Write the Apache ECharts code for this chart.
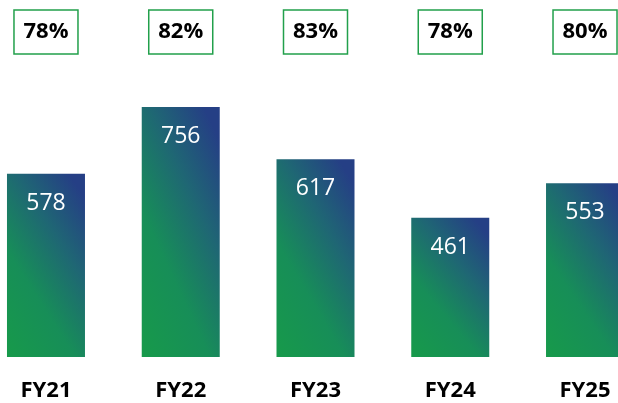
<!DOCTYPE html>
<html>
<head>
<meta charset="utf-8">
<script src="https://cdn.jsdelivr.net/npm/echarts@6/dist/echarts.min.js"></script>
<style>
  html, body { margin: 0; padding: 0; background: #fff; }
  #chart { width: 618px; height: 403px; }
</style>
</head>
<body>
<div id="chart"></div>
<script>
var years = ['FY21', 'FY22', 'FY23', 'FY24', 'FY25'];
var values = [578, 756, 617, 461, 553];
var shares = ['78%', '82%', '83%', '78%', '80%'];

var BAR_W = 78;
var KX = 0.4, KY = 0.6;

// gradient scaled with the bar's shape: t = KX*x + KY*y (normalised, y up)
function barGradient(h) {
    var w = BAR_W;
    var g2 = KX * KX / (w * w) + KY * KY / (h * h);
    var nx = KX / (w * w * g2);
    var ny = -KY / (h * h * g2);
    return new echarts.graphic.LinearGradient(0, 1, nx, 1 + ny, [
        { offset: 0, color: '#179a4a' },
        { offset: 0.35, color: '#178e58' },
        { offset: 0.65, color: '#1f6674' },
        { offset: 0.92, color: '#253f85' },
        { offset: 1, color: '#253f85' }
    ]);
}

var myChart = echarts.init(document.getElementById('chart'));
var option = {
    backgroundColor: '#fff',
    animation: false,
    grid: { left: -21.4, right: -34.4, top: 60, bottom: 46, outerBoundsMode: 'none', containLabel: false },
    xAxis: [{
        type: 'category',
        data: years,
        axisLine: { show: false },
        axisTick: { show: false },
        axisLabel: {
            interval: 0,
            margin: 23,
            color: '#000',
            fontFamily: 'Open Sans',
            fontWeight: 'bold',
            fontSize: 22
        }
    }, {
        type: 'category',
        position: 'top',
        data: shares,
        axisLine: { show: false },
        axisTick: { show: false },
        axisLabel: {
            interval: 0,
            margin: 6,
            color: '#000',
            fontFamily: 'Open Sans',
            fontWeight: 'bold',
            fontSize: 22,
            width: 64,
            height: 44,
            lineHeight: 44,
            align: 'center',
            borderColor: '#22a04b',
            borderWidth: 1.5
        }
    }],
    yAxis: {
        type: 'value',
        min: 90,
        max: 881,
        show: false,
        splitLine: { show: false }
    },
    series: [{
        type: 'bar',
        data: values,
        barWidth: BAR_W,
        itemStyle: { color: '#1b7a68' },
        label: {
            show: true,
            position: 'insideTop',
            distance: 18,
            color: '#fff',
            fontFamily: 'Open Sans',
            fontSize: 23
        }
    }]
};
myChart.setOption(option);

// second pass: per-bar gradients from the pixel heights the axis gives
var base = myChart.convertToPixel({ yAxisIndex: 0 }, 90);
var styled = values.map(function (v) {
    var h = base - myChart.convertToPixel({ yAxisIndex: 0 }, v);
    return { value: v, itemStyle: { color: barGradient(h) } };
});
myChart.setOption({ series: [{ data: styled }] });
</script>
</body>
</html>
